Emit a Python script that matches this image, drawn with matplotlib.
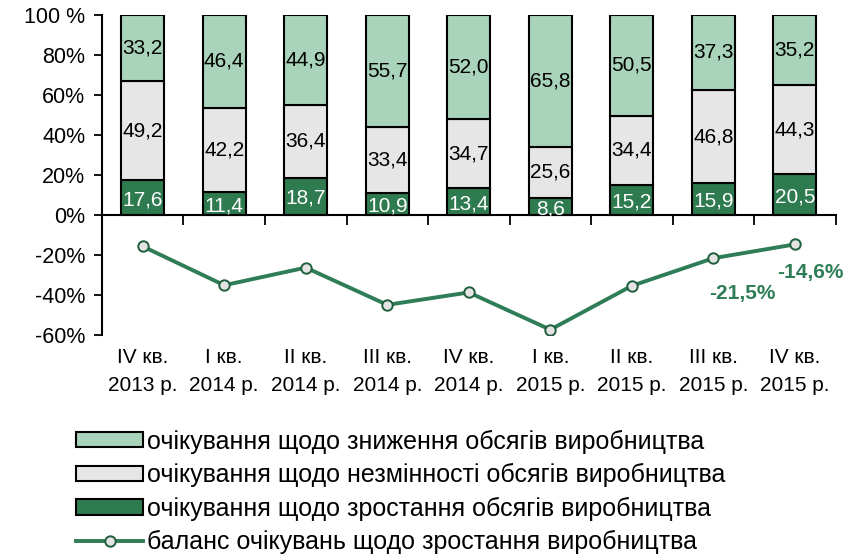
import matplotlib
matplotlib.use("Agg")
import matplotlib.pyplot as plt
import matplotlib.transforms as mtransforms
import numpy as np

plt.rcParams['font.family'] = ['Liberation Sans', 'DejaVu Sans']

# data
quarters = ["IV кв.\n2013 р.", "I кв.\n2014 р.", "II кв.\n2014 р.", "III кв.\n2014 р.",
            "IV кв.\n2014 р.", "I кв.\n2015 р.", "II кв.\n2015 р.", "III кв.\n2015 р.",
            "IV кв.\n2015 р."]
growth = [17.6, 11.4, 18.7, 10.9, 13.4, 8.6, 15.2, 15.9, 20.5]
unchanged = [49.2, 42.2, 36.4, 33.4, 34.7, 25.6, 34.4, 46.8, 44.3]
decline = [33.2, 46.4, 44.9, 55.7, 52.0, 65.8, 50.5, 37.3, 35.2]
balance = [-15.6, -35.0, -26.2, -44.8, -38.6, -57.2, -35.3, -21.5, -14.6]

legend_labels = ["очікування щодо зниження обсягів виробництва",
                 "очікування щодо незмінності обсягів виробництва",
                 "очікування щодо зростання обсягів виробництва",
                 "баланс очікувань щодо зростання виробництва"]

c_decline = '#a9d3bb'
c_unch = '#e6e6e6'
c_growth = '#2e7b50'
c_line = '#2e7d56'

fig = plt.figure(figsize=(8.57, 5.56), dpi=100)
ax = fig.add_axes([0.119, 0.397, 0.856, 0.576])

x = np.arange(len(quarters))
w = 0.53
g = np.array(growth)
u = np.array(unchanged)
d = np.array(decline)

b1 = ax.bar(x, g, w, color=c_growth, edgecolor='black', linewidth=1.5, zorder=2)
b2 = ax.bar(x, u, w, bottom=g, color=c_unch, edgecolor='black', linewidth=1.5, zorder=2)
b3 = ax.bar(x, d, w, bottom=g + u, color=c_decline, edgecolor='black', linewidth=1.5, zorder=2)
ln, = ax.plot(x, balance, color=c_line, lw=2.8, marker='o', markersize=7.5,
              markerfacecolor='#e4e4e4', markeredgecolor='#1f5e3c', markeredgewidth=1.4, zorder=3)

# value labels in bars
for i in range(len(x)):
    ax.text(x[i], g[i] / 2 - 1, f"{growth[i]:.1f}".replace('.', ','), ha='center', va='center',
            color='white', fontsize=15, zorder=4)
    ax.text(x[i], g[i] + u[i] / 2, f"{unchanged[i]:.1f}".replace('.', ','), ha='center', va='center',
            color='black', fontsize=15, zorder=4)
    ax.text(x[i], g[i] + u[i] + d[i] / 2, f"{decline[i]:.1f}".replace('.', ','), ha='center',
            va='center', color='black', fontsize=15, zorder=4)

# labels for last two balance points
ax.text(x[7] + 0.35, balance[7] - 17.5, f"{balance[7]:.1f}%".replace('.', ','), ha='center', va='center',
        color=c_line, fontsize=15, fontweight='bold')
ax.text(x[8] + 0.19, balance[8] - 14, f"{balance[8]:.1f}%".replace('.', ','), ha='center', va='center',
        color=c_line, fontsize=15, fontweight='bold')

ax.set_xlim(-0.5, len(x) - 0.5)
ax.set_ylim(-60, 100)
ax.set_yticks([-60, -40, -20, 0, 20, 40, 60, 80, 100])
ax.set_yticklabels(["-60%", "-40%", "-20%", "0%", "20%", "40%", "60%", "80%", "100 %"], fontsize=15.5)
ax.tick_params(axis='y', length=6, width=1.3, pad=6)

ax.spines['top'].set_visible(False)
ax.spines['right'].set_visible(False)
ax.spines['left'].set_linewidth(1.5)
ax.spines['bottom'].set_position(('data', 0))
ax.spines['bottom'].set_linewidth(1.5)
ax.set_xticks(np.arange(-0.5, len(x), 1.0))
ax.set_xticklabels([])
ax.tick_params(axis='x', length=7, width=1.3, direction='out')

trans = mtransforms.blended_transform_factory(ax.transData, ax.transAxes)
for i, q in enumerate(quarters):
    ax.text(x[i], -0.04, q, transform=trans, ha='center', va='top', fontsize=15, linespacing=1.6)

fig.legend([b3, b2, b1, ln], legend_labels, loc='upper left', bbox_to_anchor=(0.077, 0.245),
           frameon=False, fontsize=18, handlelength=2.7, handleheight=0.55, handletextpad=0.15,
           labelspacing=0.38, borderaxespad=0)

fig.savefig("out.png", dpi=100)
